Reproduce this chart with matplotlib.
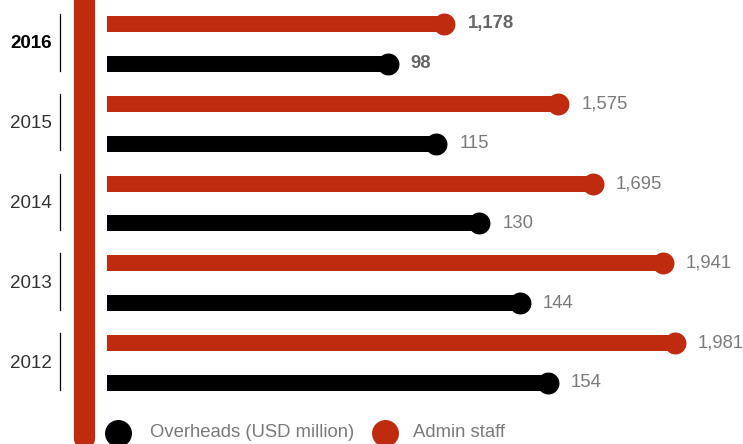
import matplotlib
matplotlib.use("Agg")
import matplotlib.pyplot as plt
import matplotlib.transforms as mtransforms
from matplotlib.lines import Line2D

plt.rcParams['font.family'] = ['Liberation Sans', 'DejaVu Sans']

years = ['2016', '2015', '2014', '2013', '2012']
admin_staff = [1178, 1575, 1695, 1941, 1981]
overheads = [98, 115, 130, 144, 154]
highlight = ['2016']

RED = '#bf2b0f'
GREY = '#7a7a7a'
W, H = 743, 444

# admin staff is drawn at 1/10 so both series share one axis
staff_scale = 10.0

fig = plt.figure(figsize=(W / 100, H / 100), dpi=100)
ax = fig.add_axes([107 / W, 0, 1 - 107 / W, 1])
ax.set_xlim(0, 222)
ax.set_ylim(10.53, -0.60)
ax.axis('off')

# x in pixels of the figure, y in row units
fx = mtransforms.blended_transform_factory(
    mtransforms.Affine2D().scale(1 / W, 1) + fig.transFigure, ax.transData)

bar_lw = 11.5
dot_ms = 15.8
lab_off = 16.5

for i, yr in enumerate(years):
    y_red = 2 * i
    y_blk = 2 * i + 1
    bold = yr in highlight
    val_col = '#666666' if bold else GREY
    weight = 'bold' if bold else 'normal'

    staff_x = admin_staff[i] / staff_scale
    ax.plot([0, staff_x], [y_red, y_red], color=RED, lw=bar_lw,
            solid_capstyle='butt', clip_on=False)
    ax.plot(staff_x, y_red, 'o', color=RED, ms=dot_ms, mew=0, clip_on=False)
    ax.annotate(f'{admin_staff[i]:,}', (staff_x, y_red), xytext=(lab_off, 0),
                textcoords='offset points', va='center', ha='left',
                fontsize=13.3, color=val_col, fontweight=weight,
                annotation_clip=False)

    ax.plot([0, overheads[i]], [y_blk, y_blk], color='black', lw=bar_lw,
            solid_capstyle='butt', clip_on=False)
    ax.plot(overheads[i], y_blk, 'o', color='black', ms=dot_ms, mew=0,
            clip_on=False)
    ax.annotate(f'{overheads[i]:,}', (overheads[i], y_blk), xytext=(lab_off, 0),
                textcoords='offset points', va='center', ha='left',
                fontsize=13.3, color=val_col, fontweight=weight,
                annotation_clip=False)

    # year label with its bracket line
    ax.text(52, 2 * i + 0.5, yr, transform=fx, ha='right', va='center',
            fontsize=13.5, color='black' if bold else '#333333',
            fontweight=weight)
    ax.plot([60, 60], [2 * i - 0.25, 2 * i + 1.17], color='black', lw=0.9,
            transform=fx, clip_on=False)

# thick red spine on the left, its rounded end runs off the bottom
fig.add_artist(Line2D([84 / W, 84 / W], [1.2, 1 - 438 / H], color=RED,
                      lw=15.3, solid_capstyle='round',
                      transform=fig.transFigure))

# legend
leg_y = 10.25
ax.plot(118, leg_y, 'o', color='black', ms=19.4, mew=0, transform=fx,
        clip_on=False)
ax.text(150, leg_y, 'Overheads (USD million)', transform=fx, ha='left',
        va='center', fontsize=13.3, color=GREY)
ax.plot(385, leg_y, 'o', color=RED, ms=19.4, mew=0, transform=fx,
        clip_on=False)
ax.text(413, leg_y, 'Admin staff', transform=fx, ha='left', va='center',
        fontsize=13.3, color=GREY)

fig.savefig('out.png', dpi=100)
